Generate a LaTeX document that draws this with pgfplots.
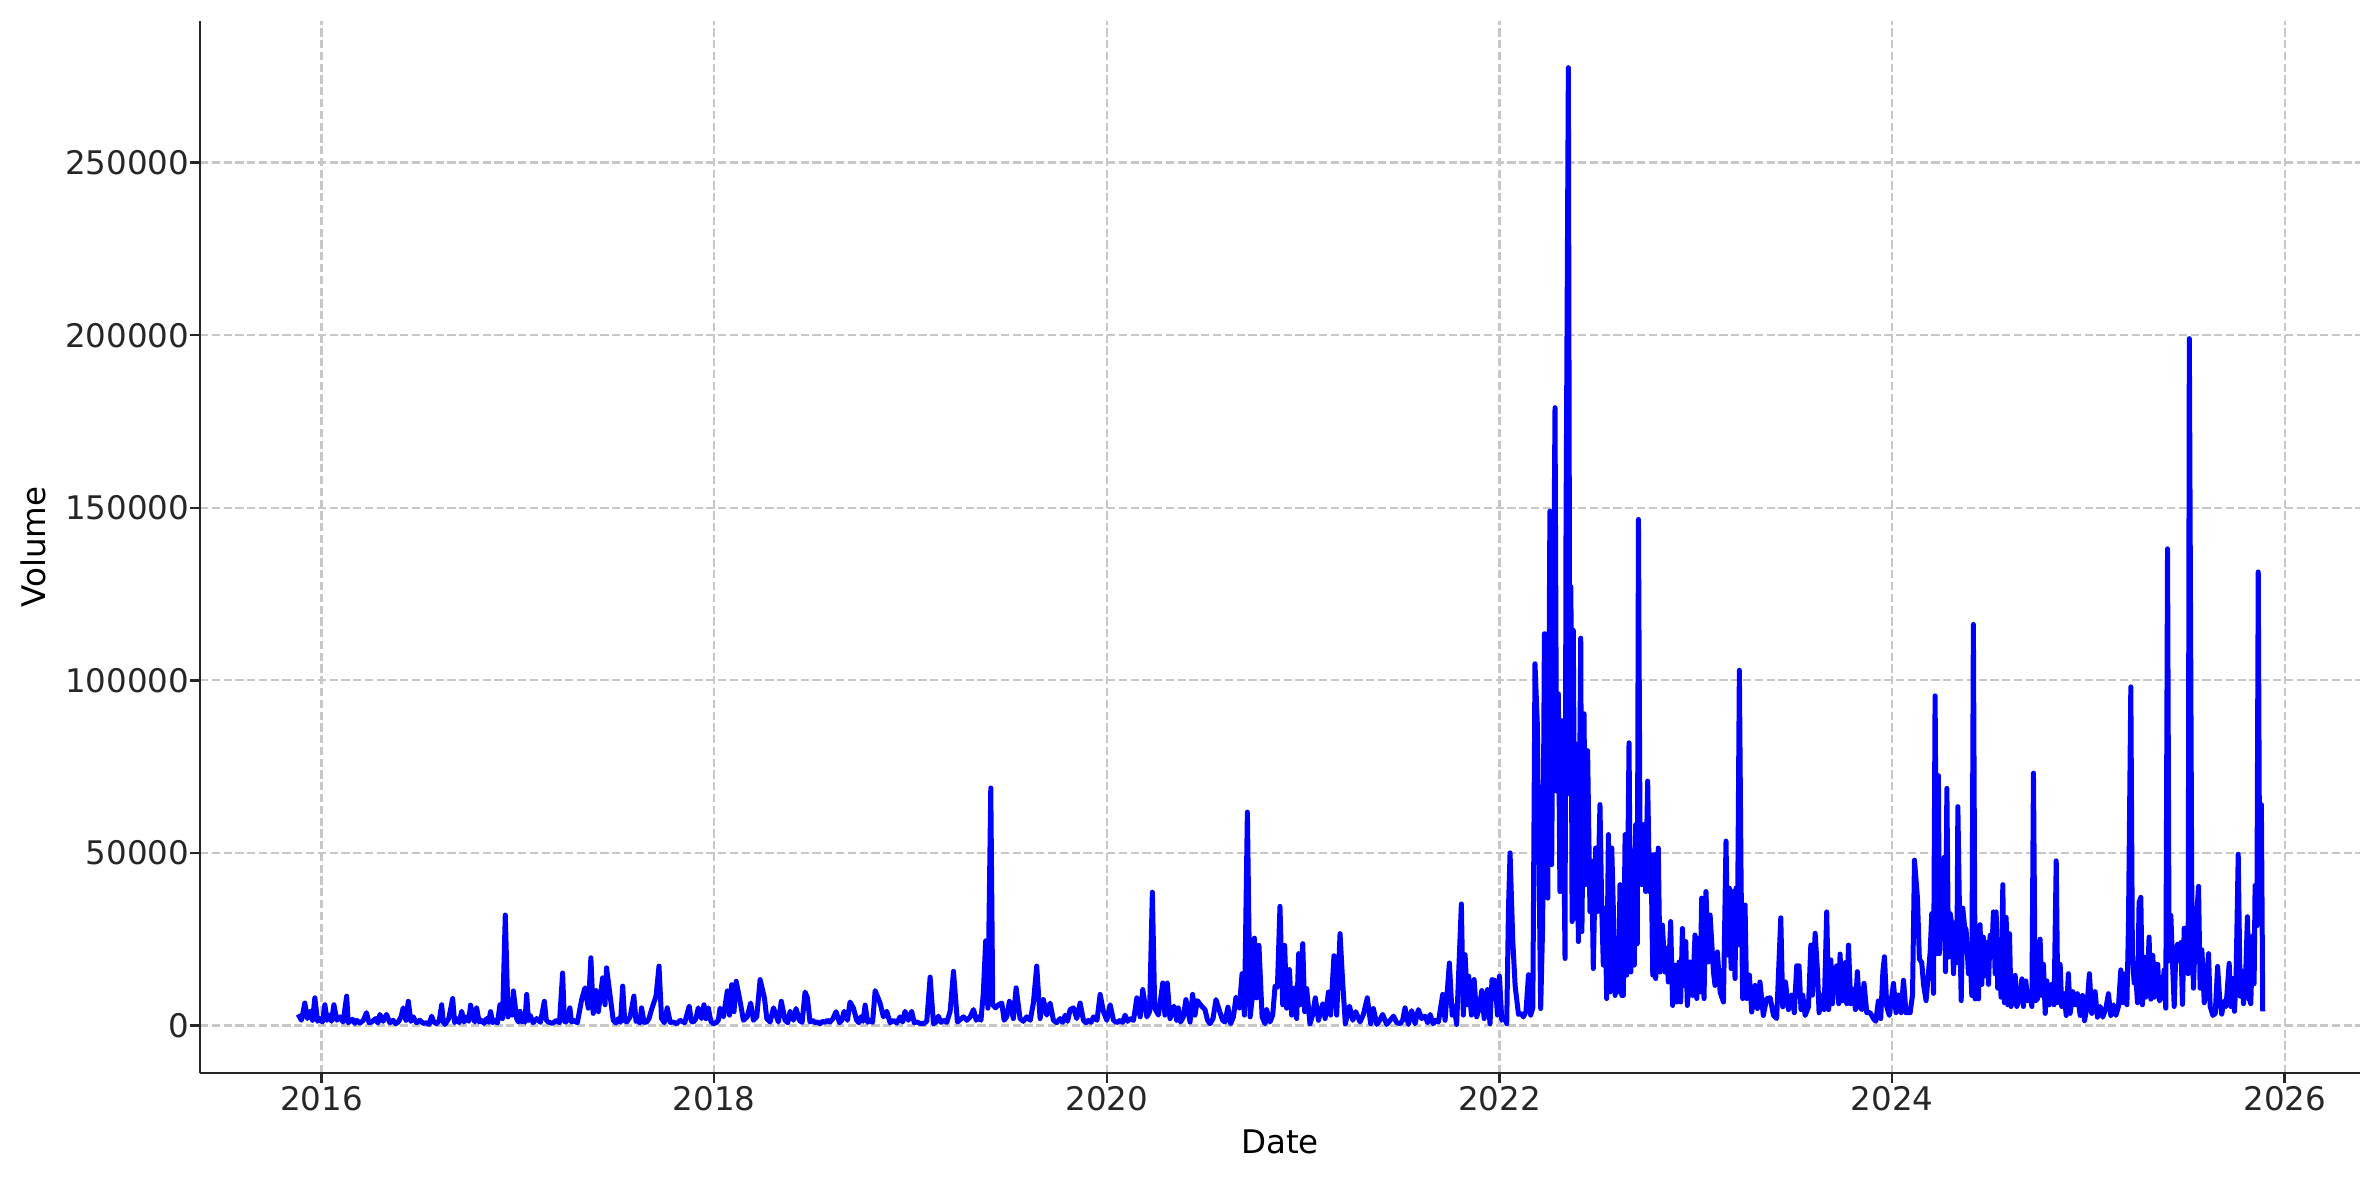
\documentclass[border=0pt]{standalone}
\usepackage{pgfplots}
\pgfplotsset{compat=1.18}
\usepackage{fontspec}
\setmainfont{DejaVu Sans}

\pgfplotstableread{
x y
2015.881 3200
2015.898 1500
2015.915 6500
2015.928 2000
2015.941 4100
2015.954 1500
2015.966 8000
2015.980 1200
2015.992 2000
2016.005 1000
2016.017 6000
2016.028 1500
2016.039 3000
2016.051 1200
2016.063 6000
2016.078 1500
2016.094 2500
2016.110 1000
2016.128 8500
2016.136 800
2016.158 1800
2016.170 600
2016.179 1500
2016.196 700
2016.213 1500
2016.229 3700
2016.242 800
2016.255 1000
2016.276 2000
2016.287 700
2016.297 3200
2016.314 1200
2016.331 3200
2016.348 800
2016.365 1500
2016.378 500
2016.391 1000
2016.405 2500
2016.416 5100
2016.430 1500
2016.442 7000
2016.455 1200
2016.467 2500
2016.484 800
2016.501 1500
2016.518 600
2016.535 800
2016.548 300
2016.561 2700
2016.572 1000
2016.586 500
2016.600 1500
2016.612 6000
2016.620 1000
2016.629 300
2016.648 2000
2016.668 7800
2016.678 800
2016.688 2000
2016.701 800
2016.714 4100
2016.726 1000
2016.739 2500
2016.750 1200
2016.759 5900
2016.773 2500
2016.781 1000
2016.790 5100
2016.803 1000
2016.815 1500
2016.828 600
2016.841 2000
2016.851 900
2016.861 4000
2016.872 800
2016.883 1500
2016.896 700
2016.909 6000
2016.922 2000
2016.936 32000
2016.950 2500
2016.960 7500
2016.970 3000
2016.977 10000
2016.994 2000
2017.003 1000
2017.011 4100
2017.020 1000
2017.028 2000
2017.036 900
2017.045 9000
2017.054 1500
2017.062 3000
2017.078 800
2017.096 2000
2017.115 900
2017.135 7000
2017.145 1500
2017.155 1000
2017.176 600
2017.197 1500
2017.212 800
2017.228 15200
2017.237 1200
2017.245 1000
2017.255 2500
2017.265 5100
2017.273 1000
2017.282 1500
2017.303 800
2017.325 7500
2017.342 10900
2017.359 5000
2017.372 19600
2017.384 3500
2017.398 10100
2017.410 4000
2017.432 13800
2017.444 6000
2017.452 16700
2017.469 9000
2017.486 1500
2017.499 700
2017.512 2000
2017.523 900
2017.534 11400
2017.544 1500
2017.554 1000
2017.572 2500
2017.591 8500
2017.602 1200
2017.613 1500
2017.622 700
2017.630 5100
2017.643 900
2017.656 1000
2017.668 2000
2017.681 4600
2017.704 8500
2017.719 17200
2017.732 2000
2017.746 800
2017.761 5100
2017.776 900
2017.792 1000
2017.809 500
2017.826 1500
2017.850 800
2017.873 5600
2017.884 1200
2017.894 1000
2017.907 2000
2017.919 5100
2017.936 2000
2017.948 6000
2017.958 2000
2017.970 5100
2017.983 1200
2017.996 500
2018.010 800
2018.021 1500
2018.030 5000
2018.047 2500
2018.067 10000
2018.078 3000
2018.089 11800
2018.101 4000
2018.112 12800
2018.132 7000
2018.149 1500
2018.168 2500
2018.186 6500
2018.200 1500
2018.217 2500
2018.234 13300
2018.256 8000
2018.268 2000
2018.285 1000
2018.302 5100
2018.327 1000
2018.342 7000
2018.361 1500
2018.375 800
2018.387 4100
2018.404 1500
2018.417 4900
2018.434 1500
2018.448 900
2018.463 9700
2018.475 8000
2018.488 1000
2018.501 1500
2018.514 800
2018.527 1000
2018.539 500
2018.552 1200
2018.565 900
2018.577 1500
2018.590 1000
2018.605 2000
2018.621 4000
2018.638 800
2018.650 1500
2018.662 4100
2018.679 1500
2018.692 6800
2018.709 5100
2018.726 1500
2018.737 800
2018.747 2500
2018.758 1200
2018.769 5900
2018.782 900
2018.794 1500
2018.807 900
2018.820 10100
2018.845 6500
2018.862 2500
2018.879 4100
2018.896 800
2018.913 1500
2018.930 700
2018.947 2500
2018.960 1000
2018.972 4100
2018.989 1500
2019.006 4100
2019.019 800
2019.032 1000
2019.049 600
2019.066 500
2019.083 1200
2019.100 14000
2019.117 500
2019.130 1000
2019.142 2700
2019.155 900
2019.168 1500
2019.185 900
2019.202 4100
2019.219 15700
2019.239 1000
2019.255 1800
2019.270 2500
2019.287 1500
2019.304 2500
2019.321 4600
2019.335 1500
2019.346 2500
2019.359 1500
2019.371 9400
2019.383 24500
2019.394 5000
2019.409 68800
2019.419 6000
2019.433 5100
2019.448 6000
2019.465 6500
2019.477 1500
2019.490 2500
2019.504 7000
2019.524 2000
2019.538 10900
2019.558 2000
2019.575 1200
2019.592 2500
2019.610 1500
2019.626 6500
2019.643 17200
2019.660 2000
2019.677 7500
2019.694 3000
2019.711 6500
2019.728 1500
2019.745 800
2019.762 2000
2019.775 900
2019.788 3000
2019.800 1200
2019.813 4600
2019.830 5100
2019.847 2000
2019.864 6500
2019.881 1500
2019.894 800
2019.906 1500
2019.920 900
2019.932 2500
2019.950 1500
2019.966 9000
2019.983 4000
2020.000 1500
2020.017 6000
2020.034 1500
2020.050 800
2020.068 1500
2020.080 900
2020.093 3000
2020.106 1200
2020.119 2000
2020.136 1500
2020.153 8000
2020.170 2500
2020.183 10400
2020.204 2500
2020.218 4000
2020.232 38600
2020.244 5000
2020.263 3000
2020.285 12300
2020.296 3000
2020.308 12300
2020.322 2000
2020.342 5600
2020.356 1500
2020.364 5100
2020.376 1000
2020.390 2500
2020.403 7500
2020.424 1000
2020.437 9000
2020.449 3000
2020.461 7200
2020.483 5600
2020.500 4600
2020.513 1500
2020.526 500
2020.541 2000
2020.556 7500
2020.577 3700
2020.590 1500
2020.602 1000
2020.617 5300
2020.631 500
2020.645 2500
2020.658 8200
2020.675 5100
2020.689 15000
2020.701 3000
2020.716 61800
2020.730 2500
2020.741 8000
2020.752 25300
2020.763 8000
2020.775 23200
2020.791 2500
2020.806 500
2020.814 4600
2020.831 1000
2020.845 3000
2020.857 11400
2020.869 11100
2020.882 34500
2020.896 6000
2020.906 23200
2020.916 5000
2020.930 16200
2020.942 3000
2020.959 10900
2020.967 2000
2020.977 20800
2020.984 6000
2020.998 23700
2021.008 4000
2021.018 10700
2021.035 500
2021.048 3000
2021.062 8000
2021.078 1500
2021.100 6300
2021.112 2000
2021.129 9700
2021.140 3000
2021.157 20200
2021.171 3000
2021.188 26600
2021.202 12000
2021.215 500
2021.236 5600
2021.253 1500
2021.268 4000
2021.290 1000
2021.307 3200
2021.327 8000
2021.344 500
2021.358 4900
2021.375 300
2021.390 1500
2021.405 3200
2021.426 300
2021.443 1500
2021.460 2700
2021.477 800
2021.494 500
2021.507 1500
2021.519 5100
2021.536 300
2021.553 4300
2021.570 500
2021.587 4600
2021.604 2000
2021.621 2700
2021.634 800
2021.647 3200
2021.663 500
2021.676 1500
2021.689 1000
2021.711 9000
2021.723 1500
2021.745 18100
2021.759 3000
2021.769 5600
2021.782 300
2021.806 35200
2021.816 3000
2021.825 20500
2021.837 6000
2021.843 14300
2021.857 3000
2021.871 13300
2021.884 2500
2021.897 5000
2021.910 10100
2021.922 2000
2021.939 10400
2021.952 500
2021.962 13300
2021.978 13000
2021.990 3000
2022.000 14300
2022.012 1500
2022.025 2500
2022.037 500
2022.046 34000
2022.054 50000
2022.068 24400
2022.080 11400
2022.097 3200
2022.110 3500
2022.122 2500
2022.135 4000
2022.148 14700
2022.159 3000
2022.170 5100
2022.181 104800
2022.193 87300
2022.210 4900
2022.220 29100
2022.229 113500
2022.240 107700
2022.246 36900
2022.257 149000
2022.266 46600
2022.283 179000
2022.291 67900
2022.300 96100
2022.308 38800
2022.317 88300
2022.325 69900
2022.334 19400
2022.339 143600
2022.351 277500
2022.359 67000
2022.364 127100
2022.370 30100
2022.376 114500
2022.385 31100
2022.393 81500
2022.402 24300
2022.414 112200
2022.420 27200
2022.431 90300
2022.437 40800
2022.449 79600
2022.461 33000
2022.470 47600
2022.478 16500
2022.490 51400
2022.499 33000
2022.512 64000
2022.521 34000
2022.529 17500
2022.538 34000
2022.546 7800
2022.555 55300
2022.563 9700
2022.572 51400
2022.580 34000
2022.589 8700
2022.597 24300
2022.606 9700
2022.614 40800
2022.623 8700
2022.631 8700
2022.640 55300
2022.648 14600
2022.660 81900
2022.669 15500
2022.679 50500
2022.687 17500
2022.694 58200
2022.702 23700
2022.708 146600
2022.716 54300
2022.725 40800
2022.733 58200
2022.745 38800
2022.755 70800
2022.764 38800
2022.772 49500
2022.781 14600
2022.789 49500
2022.796 13600
2022.809 51400
2022.818 15500
2022.830 29100
2022.843 15500
2022.852 22300
2022.860 12600
2022.872 30100
2022.882 5800
2022.894 17500
2022.903 6800
2022.915 18400
2022.923 6800
2022.932 28100
2022.940 11600
2022.949 24300
2022.957 5800
2022.971 18400
2022.984 8700
2022.996 26200
2023.005 7800
2023.013 25200
2023.022 9700
2023.030 36900
2023.042 7800
2023.052 38800
2023.064 18400
2023.073 32000
2023.090 15500
2023.098 11600
2023.110 21300
2023.124 9700
2023.141 6800
2023.154 53400
2023.163 20400
2023.171 39800
2023.180 16500
2023.188 38800
2023.200 13600
2023.205 39800
2023.212 23300
2023.222 102900
2023.231 40800
2023.239 7800
2023.251 34900
2023.259 7800
2023.273 14600
2023.285 3900
2023.302 11600
2023.314 4900
2023.327 12600
2023.344 2900
2023.361 7800
2023.379 8000
2023.396 2900
2023.412 2000
2023.433 31200
2023.443 5400
2023.457 12600
2023.472 4600
2023.489 8800
2023.502 3700
2023.514 17300
2023.526 17300
2023.536 4600
2023.545 8800
2023.557 2900
2023.574 5400
2023.586 23300
2023.594 8800
2023.608 26700
2023.620 15600
2023.628 3700
2023.642 8800
2023.654 4600
2023.667 32900
2023.677 4600
2023.688 19000
2023.696 6300
2023.705 14800
2023.718 17300
2023.728 6300
2023.735 20700
2023.745 7100
2023.761 18200
2023.769 6300
2023.778 23300
2023.789 6300
2023.803 10500
2023.813 4600
2023.823 15600
2023.834 5400
2023.846 4600
2023.857 12200
2023.871 3700
2023.888 3700
2023.905 2000
2023.917 1200
2023.930 7100
2023.942 2000
2023.953 15600
2023.961 19900
2023.973 5400
2023.986 2900
2024.007 12200
2024.020 3700
2024.032 8800
2024.046 3700
2024.058 13100
2024.071 3700
2024.092 3700
2024.104 8800
2024.114 47900
2024.129 37100
2024.139 19300
2024.151 18200
2024.160 11900
2024.173 7200
2024.185 15000
2024.194 21400
2024.202 32400
2024.211 9300
2024.219 95500
2024.228 20800
2024.236 72400
2024.241 20800
2024.250 39800
2024.258 27700
2024.265 48700
2024.272 15600
2024.279 68700
2024.287 19800
2024.296 32400
2024.304 29200
2024.313 15000
2024.321 29800
2024.330 18200
2024.335 63400
2024.343 34000
2024.352 7200
2024.360 34000
2024.369 28700
2024.377 27700
2024.389 15000
2024.397 20800
2024.406 8700
2024.414 116200
2024.423 7700
2024.431 28700
2024.440 7700
2024.448 29200
2024.457 11900
2024.465 25600
2024.474 14500
2024.482 24000
2024.491 11900
2024.499 26100
2024.508 20800
2024.516 32900
2024.525 15000
2024.530 32900
2024.538 10800
2024.547 20800
2024.555 8200
2024.564 40800
2024.572 6600
2024.581 31300
2024.589 6000
2024.598 26600
2024.606 5500
2024.618 9800
2024.627 14500
2024.635 5500
2024.649 7700
2024.661 13500
2024.669 5500
2024.681 12900
2024.691 7200
2024.703 8200
2024.712 5500
2024.720 73100
2024.729 7100
2024.741 7700
2024.754 25000
2024.763 8700
2024.771 17700
2024.780 3500
2024.788 12900
2024.800 6000
2024.813 11900
2024.825 6000
2024.836 47700
2024.844 6600
2024.856 17700
2024.864 5500
2024.876 9200
2024.887 2900
2024.898 15000
2024.907 3500
2024.920 9800
2024.932 6000
2024.944 9200
2024.958 2900
2024.970 8700
2024.980 1400
2024.992 5000
2025.005 15000
2025.017 3500
2025.034 9800
2025.046 2400
2025.060 5500
2025.073 2400
2025.089 5000
2025.102 9200
2025.114 2900
2025.128 6000
2025.140 2900
2025.153 5500
2025.165 16100
2025.175 6600
2025.187 15000
2025.196 6000
2025.204 29200
2025.216 98100
2025.224 20300
2025.233 12300
2025.241 14500
2025.250 6600
2025.258 35600
2025.267 37100
2025.275 6000
2025.284 19800
2025.292 8200
2025.301 12900
2025.309 25600
2025.318 7600
2025.328 20300
2025.336 8200
2025.345 17700
2025.353 17700
2025.362 7100
2025.374 8700
2025.386 16100
2025.394 5000
2025.403 138100
2025.411 18700
2025.420 31900
2025.428 18700
2025.437 5500
2025.445 20800
2025.454 23500
2025.462 18700
2025.471 24000
2025.479 6100
2025.488 28200
2025.496 16100
2025.501 27700
2025.508 15000
2025.514 199000
2025.527 31900
2025.535 10800
2025.544 25600
2025.561 40300
2025.569 10800
2025.578 21900
2025.590 6600
2025.600 11900
2025.612 20800
2025.620 5500
2025.634 2900
2025.646 3500
2025.658 17100
2025.668 8200
2025.679 3300
2025.691 7000
2025.701 5500
2025.717 18000
2025.725 5500
2025.735 13600
2025.744 4100
2025.752 13600
2025.763 49600
2025.773 8500
2025.781 15800
2025.790 6300
2025.800 12800
2025.810 31500
2025.819 7700
2025.827 6300
2025.837 26000
2025.844 12100
2025.849 40600
2025.858 28900
2025.865 131400
2025.873 30400
2025.881 64000
2025.888 4100
}\volumedata

\begin{document}
\begin{tikzpicture}[font=\fontsize{11.7}{14}\selectfont]
\begin{axis}[
  scale only axis,
  width=777.6pt,
  height=378.7pt,
  xmin=2015.381, xmax=2026.384,
  ymin=-13800, ymax=291000,
  axis x line*=bottom,
  axis y line*=left,
  axis line style={-, black!85, line width=0.9pt},
  tick align=outside,
  major tick length=3.5pt,
  every tick/.style={black!85, line width=0.9pt},
  scaled x ticks=false,
  scaled y ticks=false,
  xtick={2016,2018,2020,2022,2024,2026},
  xticklabels={2016,2018,2020,2022,2024,2026},
  ytick={0,50000,100000,150000,200000,250000},
  yticklabels={0,50000,100000,150000,200000,250000},
  tick label style={text=black!85},
  xticklabel style={anchor=north, inner sep=0pt, yshift=-1pt},
  yticklabel style={anchor=east, inner sep=0pt, xshift=-0.2pt},
  grid=major,
  major grid style={dash pattern=on 2.96pt off 1.28pt, color=black!22, line width=0.8pt},
  xlabel={Date},
  ylabel={Volume},
  label style={text=black!85},
  every axis x label/.style={at={(axis description cs:0.5,0)}, yshift=-28.8pt, anchor=base},
  every axis y label/.style={at={(axis description cs:0,0.5)}, xshift=-55.7pt, rotate=90, anchor=base},
]
\addplot[color={rgb,255:red,0;green,0;blue,255}, line width=1.8pt, line join=round, mark=none] table[x=x, y=y] {\volumedata};
\end{axis}
\path (-72pt,-38.5pt) rectangle (784.4pt,386.3pt);
\end{tikzpicture}
\end{document}
